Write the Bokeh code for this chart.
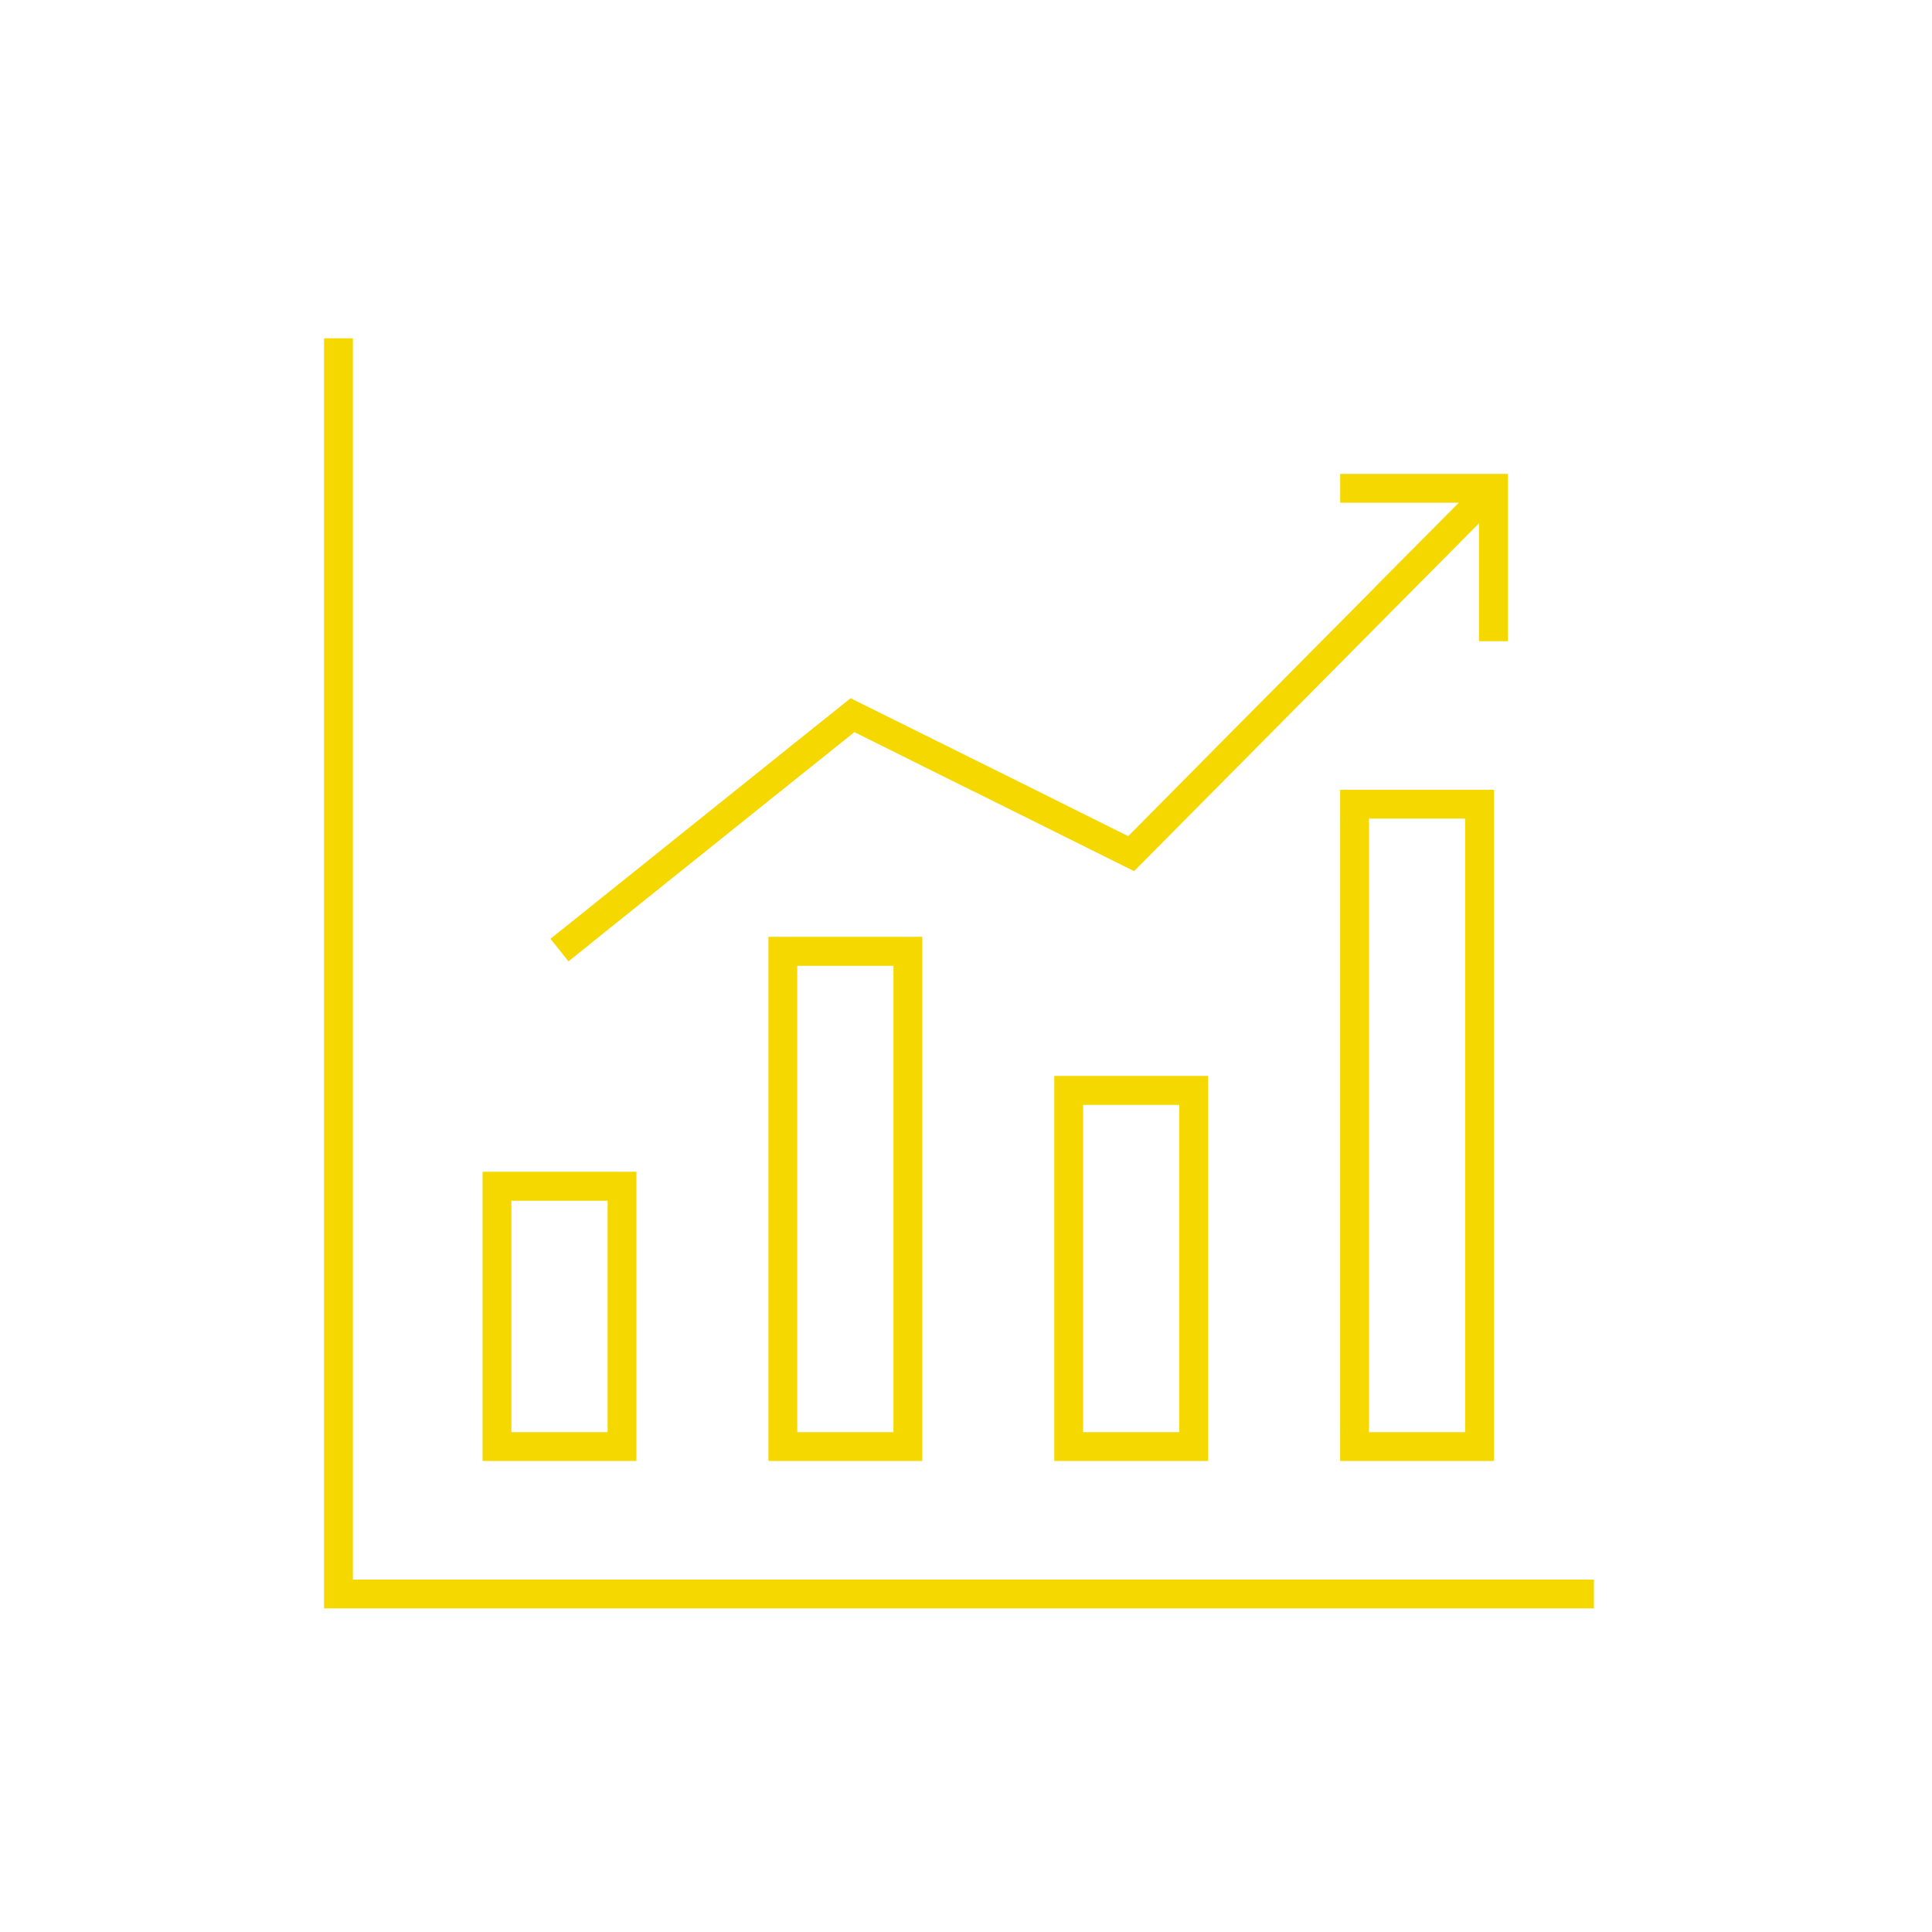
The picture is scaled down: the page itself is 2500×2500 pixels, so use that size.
from bokeh.plotting import figure
from bokeh.models import Range1d
from bokeh.embed import file_html
from bokeh.resources import INLINE

# ---- data ----
bar_x = [1, 2, 3, 4]
bar_values = [4.21, 8.01, 5.76, 10.39]
trend_x = [1.0, 2.025, 3.0, 4.267]
trend_y = [8.03, 11.83, 9.59, 15.5]

# ---- layout / style ----
COLOR = "#F5D800"
LW = 37.3
BAR_W = 0.4374
AXIS_X = 0.2268
AXIS_TOP = 17.925
AXIS_Y = -2.386
AXIS_RIGHT = 4.6186
HEAD_DX = 0.536
HEAD_DY = 2.475

p = figure(width=2484, height=2484, output_backend="svg", toolbar_location=None,
           x_range=Range1d(-0.9559, 5.7594), y_range=Range1d(-7.659, 23.391),
           x_axis_location=None, y_axis_location=None, min_border=0,
           background_fill_color="white", border_fill_color="white")
p.outline_line_color = None
p.grid.visible = False

# L-shaped axes
p.line([AXIS_X, AXIS_X, AXIS_RIGHT], [AXIS_TOP, AXIS_Y, AXIS_Y],
       line_color=COLOR, line_width=LW, line_join="miter", line_cap="butt")

# bars (outlined)
p.vbar(x=bar_x, top=bar_values, bottom=0, width=BAR_W, fill_color=None,
       line_color=COLOR, line_width=LW, line_join="miter")

# trend line
p.line(trend_x, trend_y, line_color=COLOR, line_width=LW,
       line_join="miter", line_cap="butt")

# arrow head at the last trend point
hx, hy = trend_x[-1], trend_y[-1]
p.line([hx - HEAD_DX, hx, hx], [hy, hy, hy - HEAD_DY], line_color=COLOR,
       line_width=LW, line_join="miter", line_cap="butt")

open("out.html", "w").write(file_html(p, INLINE))
